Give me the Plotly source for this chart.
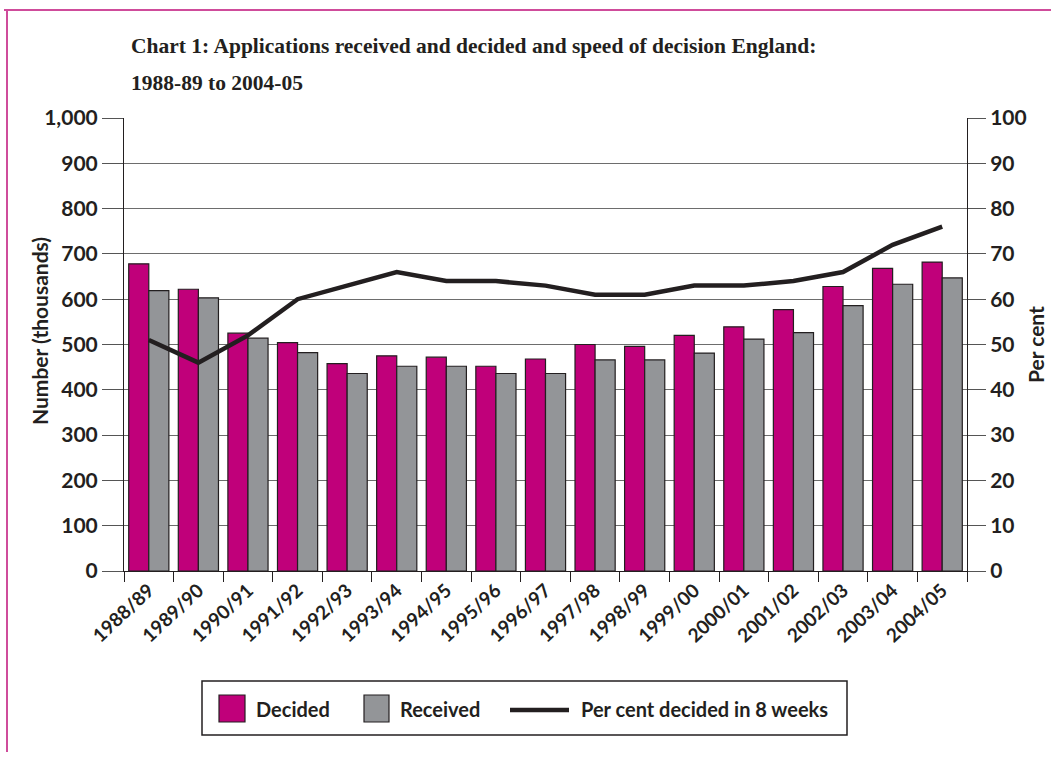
import plotly.graph_objects as go

years = ["1988/89", "1989/90", "1990/91", "1991/92", "1992/93", "1993/94", "1994/95",
         "1995/96", "1996/97", "1997/98", "1998/99", "1999/00", "2000/01", "2001/02",
         "2002/03", "2003/04", "2004/05"]
decided = [678, 622, 525, 504, 458, 475, 472, 452, 468, 500, 496, 520, 539, 577, 628, 668, 682]
received = [619, 603, 514, 482, 436, 452, 452, 436, 436, 466, 466, 481, 512, 526, 586, 633, 647]
pct_8wk = [51, 46, 52, 60, 63, 66, 64, 64, 63, 61, 61, 63, 63, 64, 66, 72, 76]

left_ticks = list(range(0, 1001, 100))
left_labels = ["0", "100", "200", "300", "400", "500", "600", "700", "800", "900", "1,000"]
right_ticks = list(range(0, 101, 10))

MAGENTA = "#C0007A"
GREY = "#939598"
DARK = "#231F20"
PINK = "#CF4C9B"
FONT = "Lato"

# plot area in pixels
L, R, T, B = 124, 967, 118, 571
W, H = R - L, B - T


def X(px):
    return (px - L) / W


def Y(py):
    return (B - py) / H


fig = go.Figure()
fig.add_trace(go.Bar(x=years, y=decided, name="Decided", showlegend=False,
                     marker=dict(color=MAGENTA, line=dict(color=DARK, width=1.2))))
fig.add_trace(go.Bar(x=years, y=received, name="Received", showlegend=False,
                     marker=dict(color=GREY, line=dict(color=DARK, width=1.2))))
fig.add_trace(go.Scatter(x=years, y=pct_8wk, name="Per cent decided in 8 weeks", yaxis="y2",
                         mode="lines", showlegend=False, line=dict(color=DARK, width=4.5)))

fig.update_layout(
    width=1051, height=758,
    margin=dict(l=L, r=1051 - R, t=T, b=758 - B, autoexpand=False),
    paper_bgcolor="white", plot_bgcolor="white",
    barmode="group", bargap=0.19, bargroupgap=0,
    font=dict(family=FONT, color=DARK),
    xaxis=dict(type="category", tickson="boundaries", ticks="outside", ticklen=10, tickcolor=DARK,
               tickangle=-43, tickfont=dict(size=19, weight="bold"), showline=True, linecolor=DARK,
               linewidth=1, showgrid=False, range=[-0.5, 16.5], automargin=False),
    yaxis=dict(range=[0, 1000], tickvals=left_ticks, ticktext=left_labels, ticks="outside", ticklen=21,
               tickcolor="#555", showline=True, linecolor=DARK, linewidth=1, gridcolor="#6d6d6d", gridwidth=1,
               tickfont=dict(size=21, weight="bold"), zeroline=False, automargin=False),
    yaxis2=dict(range=[0, 100], tickvals=right_ticks, overlaying="y", side="right", ticks="outside",
                ticklen=18, tickcolor="#555", showline=True, linecolor=DARK, linewidth=1, showgrid=False,
                tickfont=dict(size=21, weight="bold"), zeroline=False, automargin=False),
    showlegend=False,
)

# Title (two lines)
title_font = dict(family="Liberation Serif", size=21.5, color=DARK, weight="bold")
fig.add_annotation(text="Chart 1: Applications received and decided and speed of decision England:",
                   xref="paper", yref="paper", x=X(129), y=Y(46), xanchor="left", yanchor="middle",
                   showarrow=False, font=title_font)
fig.add_annotation(text="1988-89 to 2004-05",
                   xref="paper", yref="paper", x=X(129), y=Y(83), xanchor="left", yanchor="middle",
                   showarrow=False, font=title_font)

# Axis titles
fig.add_annotation(text="Number (thousands)", textangle=-90, xref="paper", yref="paper",
                   x=X(39), y=Y(331), xanchor="center", yanchor="middle", showarrow=False,
                   font=dict(size=21, weight="bold"))
fig.add_annotation(text="Per cent", textangle=-90, xref="paper", yref="paper",
                   x=X(1035), y=Y(345), xanchor="center", yanchor="middle", showarrow=False,
                   font=dict(size=21, weight="bold"))

# Custom legend
fig.add_shape(type="rect", xref="paper", yref="paper", x0=X(202), x1=X(847), y0=Y(681), y1=Y(735),
              line=dict(color=DARK, width=1.5), fillcolor="white")
fig.add_shape(type="rect", xref="paper", yref="paper", x0=X(219), x1=X(245), y0=Y(695), y1=Y(722),
              line=dict(color=DARK, width=1.2), fillcolor=MAGENTA)
fig.add_shape(type="rect", xref="paper", yref="paper", x0=X(364), x1=X(389), y0=Y(695), y1=Y(722),
              line=dict(color=DARK, width=1.2), fillcolor=GREY)
fig.add_shape(type="line", xref="paper", yref="paper", x0=X(510), x1=X(569), y0=Y(710), y1=Y(710),
              line=dict(color=DARK, width=4.5))
leg_font = dict(size=20, weight="bold")
for txt, px in [("Decided", 254), ("Received", 398), ("Per cent decided in 8 weeks", 579)]:
    fig.add_annotation(text=txt, xref="paper", yref="paper", x=X(px), y=Y(709), xanchor="left",
                       yanchor="middle", showarrow=False, font=leg_font)

# Pink frame
fig.add_shape(type="line", xref="paper", yref="paper", x0=X(4), x1=X(1051), y0=Y(10), y1=Y(10),
              line=dict(color=PINK, width=2))
fig.add_shape(type="line", xref="paper", yref="paper", x0=X(7), x1=X(7), y0=Y(10), y1=Y(752),
              line=dict(color=PINK, width=2))

fig.write_html("out.html", config={"displayModeBar": False},
               post_script="document.body.style.margin='0px';")
